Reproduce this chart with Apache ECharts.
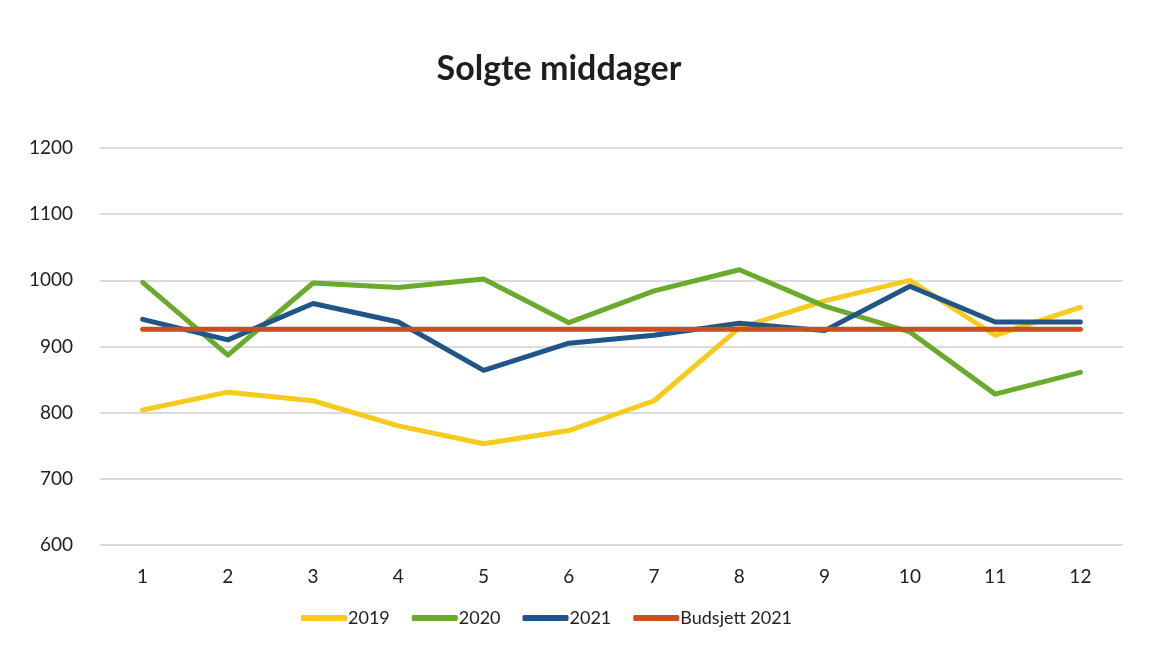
<!DOCTYPE html>
<html>
<head>
<meta charset="utf-8">
<script src="https://cdn.jsdelivr.net/npm/echarts@6/dist/echarts.min.js"></script>
<style>
  html, body { margin: 0; padding: 0; background: #fff; }
  #chart { width: 1168px; height: 650px; }
</style>
</head>
<body>
<div id="chart"></div>
<script>
  // month numbers on the x axis
  const months = ['1', '2', '3', '4', '5', '6', '7', '8', '9', '10', '11', '12'];
  // values
  const sales2019 = [804, 831, 818, 780, 753, 773, 818, 928, 969, 1000, 917, 959];
  const sales2020 = [997, 887, 996, 989, 1002, 936, 984, 1016, 961, 922, 828, 861];
  const sales2021 = [941, 910, 965, 937, 864, 905, 917, 935, 924, 991, 937, 937];
  const budget2021 = [926, 926, 926, 926, 926, 926, 926, 926, 926, 926, 926, 926];
  const yTicks = { min: 600, max: 1200, step: 100 };

  const chart = echarts.init(document.getElementById('chart'));

  const font = 'Lato, "Open Sans", sans-serif';
  const mkLine = (name, data, color) => ({
    name: name,
    type: 'line',
    data: data,
    symbol: 'none',
    smooth: false,
    lineStyle: { width: 5, color: color, cap: 'round', join: 'round' },
    itemStyle: { color: color }
  });

  let option = {
    backgroundColor: '#ffffff',
    textStyle: { fontFamily: font },
    title: {
      text: 'Solgte middager',
      left: 554,
      top: 47,
      textAlign: 'center',
      textStyle: { fontSize: 34, fontWeight: 'bold', color: '#1e1e1e', fontFamily: font }
    },
    legend: {
      bottom: 18,
      left: 296,
      itemWidth: 46,
      itemHeight: 6,
      itemGap: 22,
      icon: 'roundRect',
      textStyle: { fontSize: 18, color: '#222', padding: [0, 0, 0, -4] },
      data: ['2019', '2020', '2021', 'Budsjett 2021']
    },
    grid: { left: 100, right: 45, top: 148, bottom: 105 },
    xAxis: {
      type: 'category',
      data: months,
      boundaryGap: true,
      axisLine: { show: false },
      axisTick: { show: false },
      axisLabel: { fontSize: 19, color: '#222', margin: 22 }
    },
    yAxis: {
      type: 'value',
      min: yTicks.min,
      max: yTicks.max,
      interval: yTicks.step,
      axisLine: { show: false },
      axisTick: { show: false },
      axisLabel: { fontSize: 19, color: '#222', margin: 27, formatter: (v) => String(v) },
      splitLine: { lineStyle: { color: '#cfcfcf', width: 1.5 } }
    },
    series: [
      mkLine('2019', sales2019, '#F7CB1E'),
      mkLine('2020', sales2020, '#6AAB2E'),
      mkLine('2021', sales2021, '#1F5587'),
      mkLine('Budsjett 2021', budget2021, '#CC4E1C')
    ]
  };

  chart.setOption(option);
</script>
</body>
</html>
